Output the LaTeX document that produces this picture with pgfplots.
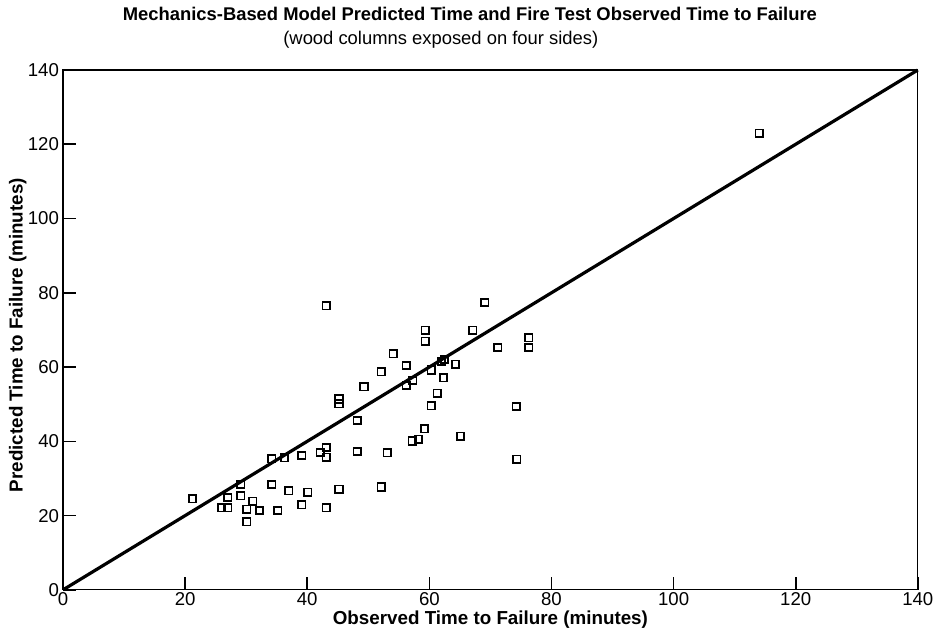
\documentclass[border=0pt]{standalone}
\usepackage{pgfplots}
\pgfplotsset{compat=1.18}
\usepackage{fontspec}
\setmainfont{Liberation Sans}
\begin{document}
\begin{tikzpicture}
\begin{axis}[
  scale only axis,
  width=427.5pt, height=260pt,
  xmin=0, xmax=140, ymin=0, ymax=140,
  xtick={0,20,...,140}, ytick={0,20,...,140},
  tick align=inside,
  major tick length=6.5pt,
  tick style={black, line width=0.8pt},
  axis line style={black, line width=0.6pt},
  xtick pos=bottom, ytick pos=left,
  ticklabel style={font=\fontsize{9.3}{11}\selectfont},
  /pgf/number format/assume math mode=true,
  xticklabel style={yshift=2pt},
  yticklabel style={xshift=1.5pt},
  xlabel={Observed Time to Failure (minutes)},
  ylabel={Predicted Time to Failure (minutes)},
  label style={font=\fontsize{9.4}{11}\selectfont\bfseries},
  xlabel style={at={(rel axis cs:0.5,-0.0577)}, anchor=center},
  ylabel style={at={(rel axis cs:-0.053,0.49)}, anchor=center},
  clip=false,
]
\path[draw=none] (rel axis cs:-0.0737,-0.0904) rectangle (rel axis cs:1.0257,1.1346);
\node[font=\fontsize{9.2}{11}\selectfont\bfseries] at (rel axis cs:0.476,1.1077) {Mechanics-Based Model Predicted Time and Fire Test Observed Time to Failure};
\node[font=\fontsize{9.2}{11}\selectfont] at (rel axis cs:0.442,1.0577) {(wood columns exposed on four sides)};
\addplot[black, line width=1.6pt] coordinates {(0,0) (140,140)};
\addplot[only marks, mark=square, mark size=1.85pt, mark options={black, line width=0.85pt}] coordinates {
(114,123)
(43.1,76.5) (49.3,54.7) (45.2,51.4) (45.2,50.1)
(69.1,77.4) (59.3,69.9) (59.3,67.0) (67.1,69.9) (54.1,63.6) (56.2,60.4)
(52.1,58.7) (71.2,65.3) (76.3,67.9) (76.3,65.3) (62,61.5) (62.5,62)
(64.3,60.8) (60.3,59.2) (57.3,56.4) (56.2,55.0) (62.3,57.1) (61.3,53.0)
(60.3,49.6) (74.2,49.4)
(48.2,45.6) (48.2,37.3) (43.1,38.3) (43.1,35.7) (42.1,37.0) (39.1,36.2)
(36.3,35.6) (34.2,35.3) (29.1,28.4) (29.1,25.3) (27.0,24.9) (21.2,24.5)
(34.2,28.4) (37.0,26.7) (40.1,26.3) (45.2,27.1) (31.1,23.9) (26.0,22.1)
(27.0,22.1) (30.1,21.7) (32.2,21.4) (35.2,21.4) (39.1,22.9) (43.1,22.1)
(30.1,18.3)
(59.2,43.4) (58.2,40.6) (57.2,40.1) (65.1,41.4) (53.1,36.9) (74.3,35.2)
(52.1,27.7)
};
\end{axis}
\end{tikzpicture}
\end{document}
